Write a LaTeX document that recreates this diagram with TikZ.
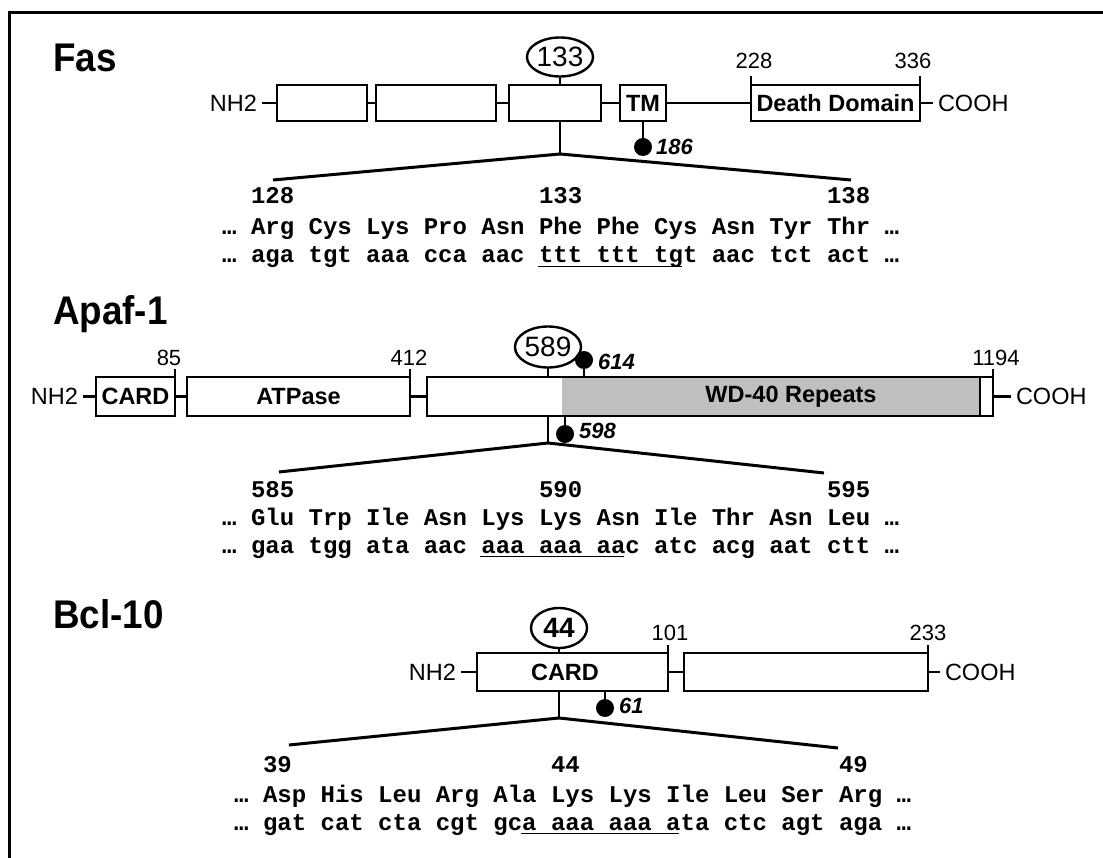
\documentclass[tikz,border=0pt]{standalone}
\usepackage{fontspec}
\setmainfont{Liberation Sans}
\newfontfamily\seqfont{Liberation Mono}
\newfontfamily\titlefont{Liberation Sans}[FakeStretch=0.92]
\usetikzlibrary{shapes.geometric}
\begin{document}
\begin{tikzpicture}[x=1pt,y=-1pt,line width=2.4pt,
  box/.style={draw,rectangle,inner sep=0pt,outer sep=0pt,minimum height=36pt,font=\fontsize{23.5}{24}\selectfont\bfseries},
  boxlabel/.style={inner sep=0pt,font=\fontsize{23.5}{24}\selectfont\bfseries},
  term/.style={inner xsep=5pt,inner ysep=0pt,outer sep=0pt,font=\fontsize{23.5}{24}\selectfont},
  num/.style={anchor=base,inner sep=0pt,font=\fontsize{22}{22}\selectfont},
  lolli/.style={anchor=west,inner sep=0pt,font=\fontsize{22}{22}\selectfont\bfseries\itshape},
  dot/.style={circle,fill=black,draw=none,minimum size=18pt,inner sep=0pt,outer sep=0pt},
  oval/.style={draw,ellipse,inner sep=0pt,outer sep=0pt,font=\fontsize{28}{28}\selectfont},
  ttl/.style={anchor=base west,inner sep=0pt,font=\titlefont\bfseries\fontsize{40}{40}\selectfont},
  seq/.style={anchor=base west,inner sep=0pt,font=\seqfont\bfseries\fontsize{24}{24}\selectfont},
  fan/.style={line width=3pt},
  uline/.style={line width=1.6pt}
]
\useasboundingbox (0,0) rectangle (1103,858);
\fill[white] (0,0) rectangle (1103,858);
% frame
\draw[line width=3pt] (9,858) -- (9,13) -- (1103,13);

% ================= Fas =================
\node[ttl] (tfas) at (52,72) {Fas};
\node[term,anchor=east] (fnh) at (262,103) {NH2};
\node[box,minimum width=90pt] (f1) at (322,103) {};
\node[box,minimum width=120pt] (f2) at (436,103) {};
\node[box,minimum width=92pt] (f3) at (555,103) {};
\node[box,minimum width=46pt] (ftm) at (643,103) {TM};
\node[box,minimum width=169pt] (fdd) at (835.5,103) {Death Domain};
\node[term,anchor=west] (fco) at (933,103) {COOH};
\draw (fnh) -- (f1);
\draw (f1) -- (f2);
\draw (f2) -- (f3);
\draw (f3) -- (ftm);
\draw (ftm) -- (fdd);
\draw (fdd) -- (fco);
\draw (fdd.north west) -- ++(0,-9);
\draw (fdd.north east) -- ++(0,-9);
\node[num] (n228) at (754,69) {228};
\node[num] (n336) at (913,69) {336};
\node[oval,minimum width=58pt,minimum height=39pt] (e133) at (560,57) {133};
\draw (e133.south) -- (e133.south |- f3.north);
\coordinate (fap) at (560,154);
\coordinate (fl) at (273,180);
\coordinate (fr) at (851,180);
\draw (e133.south |- f3.south) -- (fap);
\draw[fan] (fl) -- (fap) -- (fr);
\node[dot] (d186) at (643,147) {};
\draw (ftm.south) -- (d186);
\node[lolli] (l186) at (655,147) {186};
% sequence
\node[seq] (fn1) at (249.8,204) {128};
\node[seq] (fn2) at (537.8,204) {133};
\node[seq] (fn3) at (825.8,204) {138};
\node[seq] (fs1) at (221,235) {… Arg Cys Lys Pro Asn Phe Phe Cys Asn Tyr Thr …};
\node[seq] (fs2) at (221,263) {… aga tgt aaa cca aac ttt ttt tgt aac tct act …};
\coordinate (fu1) at (537.8,266.5);
\coordinate (fu2) at (681.8,266.5);
\draw[uline] (fu1) -- (fu2);

% ================= Apaf-1 =================
\node[ttl] (tapaf) at (52,325) {Apaf-1};
\node[term,anchor=east] (anh) at (83,396.5) {NH2};
\node[box,minimum height=39pt,minimum width=79pt] (acard) at (135.5,396.5) {CARD};
\node[box,minimum height=39pt,minimum width=223pt] (aatp) at (298.5,396.5) {ATPase};
\fill[black!25] (562,377) rectangle (980,416);
\draw (980,377) -- (980,416);
\node[box,minimum height=39pt,minimum width=566pt] (abox) at (710,396.5) {};
\node[boxlabel] (awd) at (791,397) {WD-40 Repeats};
\node[term,anchor=west] (aco) at (1011,396.5) {COOH};
\draw (anh) -- (acard);
\draw (acard) -- (aatp);
\draw (aatp) -- (abox);
\draw (abox) -- (aco);
\draw (acard.north east) -- ++(0,-8);
\draw (aatp.north east) -- ++(0,-8);
\draw (abox.north east) -- ++(0,-8);
\node[num] (n85) at (169,366) {85};
\node[num] (n412) at (409,366) {412};
\node[num] (n1194) at (996,366) {1194};
\node[oval,minimum width=59pt,minimum height=41pt] (e589) at (548,347) {589};
\draw (e589.south) -- (e589.south |- abox.north);
\node[dot] (d614) at (584,360) {};
\draw (d614) -- (d614 |- abox.north);
\node[lolli] (l614) at (597,362) {614};
\node[dot] (d598) at (565,434) {};
\draw (d598 |- abox.south) -- (d598);
\node[lolli] (l598) at (578,431) {598};
\coordinate (aap) at (548,443);
\coordinate (al) at (279,472);
\coordinate (ar) at (824,473);
\draw (aap |- abox.south) -- (aap);
\draw[fan] (al) -- (aap) -- (ar);
\node[seq] (an1) at (249.8,497) {585};
\node[seq] (an2) at (537.8,497) {590};
\node[seq] (an3) at (825.8,497) {595};
\node[seq] (as1) at (221,525) {… Glu Trp Ile Asn Lys Lys Asn Ile Thr Asn Leu …};
\node[seq] (as2) at (221,553) {… gaa tgg ata aac aaa aaa aac atc acg aat ctt …};
\coordinate (au1) at (480.2,556.5);
\coordinate (au2) at (624.2,556.5);
\draw[uline] (au1) -- (au2);

% ================= Bcl-10 =================
\node[ttl] (tbcl) at (52,628) {Bcl-10};
\node[term,anchor=east] (bnh) at (461,672) {NH2};
\node[box,minimum height=38pt,minimum width=191pt] (bcard) at (572.5,672) {};
\node[boxlabel] (bcl) at (565,672) {CARD};
\node[box,minimum height=38pt,minimum width=244pt] (bb2) at (806,672) {};
\node[term,anchor=west] (bco) at (940,672) {COOH};
\draw (bnh) -- (bcard);
\draw (bcard) -- (bb2);
\draw (bb2) -- (bco);
\draw (bcard.north east) -- ++(0,-8);
\draw (bb2.north east) -- ++(0,-8);
\node[num] (n101) at (670,640) {101};
\node[num] (n233) at (928,640) {233};
\node[oval,minimum width=56pt,minimum height=40pt,font=\fontsize{28}{28}\selectfont\bfseries] (e44) at (559,628) {44};
\draw (e44.south) -- (e44.south |- bcard.north);
\node[dot] (d61) at (605,708) {};
\draw (d61 |- bcard.south) -- (d61);
\node[lolli] (l61) at (618,706) {61};
\coordinate (bap) at (559,718);
\coordinate (bl) at (289,745);
\coordinate (br) at (838,748);
\draw (bap |- bcard.south) -- (bap);
\draw[fan] (bl) -- (bap) -- (br);
\node[seq] (bn1) at (261.8,772) {39};
\node[seq] (bn2) at (549.8,772) {44};
\node[seq] (bn3) at (837.8,772) {49};
\node[seq] (bs1) at (233,802) {… Asp His Leu Arg Ala Lys Lys Ile Leu Ser Arg …};
\node[seq] (bs2) at (233,830) {… gat cat cta cgt gca aaa aaa ata ctc agt aga …};
\coordinate (bu1) at (521,833.5);
\coordinate (bu2) at (679.4,833.5);
\draw[uline] (bu1) -- (bu2);
\end{tikzpicture}
\end{document}
